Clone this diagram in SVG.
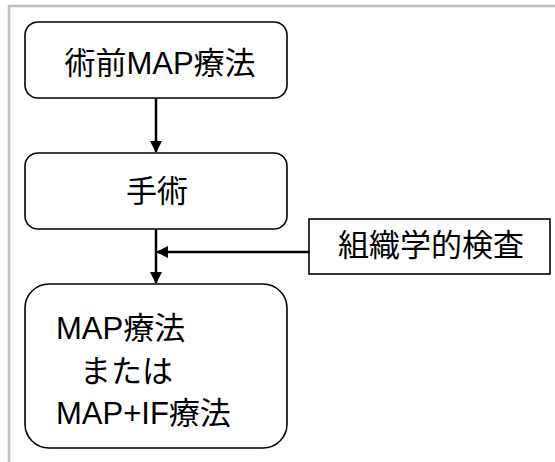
<svg xmlns="http://www.w3.org/2000/svg" width="555" height="462" viewBox="0 0 555 462">
  <style>
    .box { fill: #ffffff; stroke: #000000; stroke-width: 1.6; }
    .t { font-family: "Liberation Sans", "Noto Sans CJK JP", sans-serif; font-size: 31px; fill: #000000; }
    .c { text-anchor: middle; }
    .edge { stroke: #000000; stroke-width: 2.5; fill: none; }
  </style>
  <defs>
    <marker id="ah" viewBox="0 0 12 12" refX="11" refY="6" markerWidth="12" markerHeight="12" markerUnits="userSpaceOnUse" orient="auto">
      <path d="M0,0 L12,6 L0,12 Z" fill="#000000"/>
    </marker>
  </defs>
  <rect x="0" y="0" width="555" height="462" fill="#ffffff"/>
  <path d="M9,462 L9,6 L555,6" fill="none" stroke="#c0c0c0" stroke-width="2.5"/>

  <g id="connectors">
    <line class="edge" x1="156" y1="98" x2="156" y2="152" marker-end="url(#ah)"/>
    <line class="edge" x1="156" y1="229" x2="156" y2="283" marker-end="url(#ah)"/>
    <line class="edge" x1="309" y1="252" x2="157" y2="252" marker-end="url(#ah)"/>
  </g>

  <g id="node-preop">
    <rect class="box" x="25" y="22" width="262" height="76" rx="13"/>
    <text class="t c" x="160" y="74">術前MAP療法</text>
  </g>
  <g id="node-surgery">
    <rect class="box" x="25" y="153" width="262" height="76" rx="13"/>
    <text class="t c" x="157" y="202">手術</text>
  </g>
  <g id="node-histology">
    <rect class="box" x="309" y="219" width="241" height="55"/>
    <text class="t c" x="431" y="256">組織学的検査</text>
  </g>
  <g id="node-postop">
    <rect class="box" x="25" y="284" width="262" height="164" rx="24"/>
    <text class="t" x="56" y="339">MAP療法</text>
    <text class="t" x="80" y="382">または</text>
    <text class="t" x="56" y="424">MAP+IF療法</text>
  </g>
</svg>
